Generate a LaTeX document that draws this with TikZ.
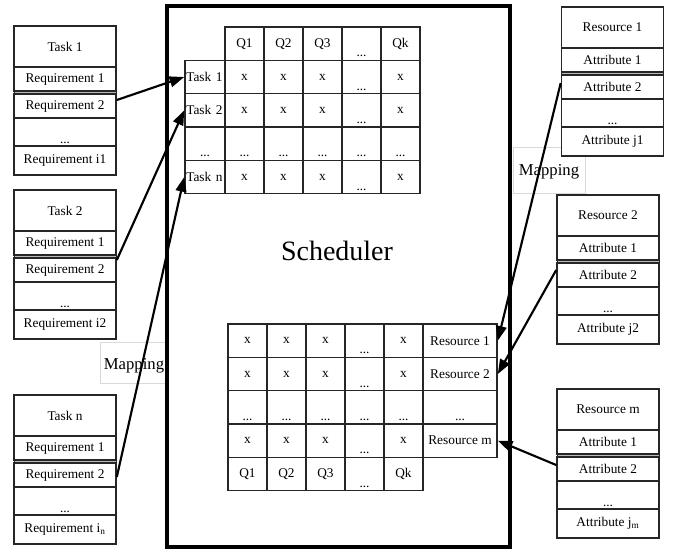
\documentclass[tikz,border=0pt]{standalone}
\usepackage{fontspec}
\setmainfont{Liberation Serif}
\usetikzlibrary{arrows.meta,calc}

% one coordinate unit = one pixel of the drawing (y grows downwards)
\tikzset{
  txt/.style={font=\fontsize{10}{12}\selectfont},
  cell/.style={txt, draw=black!85, line width=1.2pt, fill=white, inner sep=0pt,
               minimum width=29.25pt, minimum height=25pt},
  dotcell/.style={cell, label={[txt, inner sep=3pt, anchor=south]south:...}},
  lblcell/.style={cell, minimum width=30pt, text width=28pt, align=left},
  rescell/.style={cell, minimum width=55.5pt},
  resdots/.style={rescell, label={[txt, inner sep=3pt, anchor=south]south:...}},
  rowbox/.style={txt, draw=black!85, line width=1.2pt, fill=white, inner sep=0pt,
                 minimum width=76.5pt},
  dotrow/.style={rowbox, label={[txt, inner sep=2pt, anchor=south]south:...}},
  mapbox/.style={draw=black!15, line width=0.6pt, fill=white},
  maptxt/.style={font=\fontsize{12.5}{14}\selectfont},
  frame/.style={draw=black, line width=2.6pt, inner sep=0pt,
                minimum width=257.25pt, minimum height=405.75pt},
  link/.style={draw=black, line width=1.6pt, -{Triangle[length=11pt,width=8pt]}},
}

% stacked record: name prefix, centre x, top y, title, first row, second row, last row
\newcommand\stackbox[7]{%
  \node[rowbox, minimum height=30.75pt] (#1-t) at (#2,#3+20.5) {#4};
  \node[rowbox, minimum height=18pt] (#1-1) at (#2,#3+53) {#5};
  \filldraw[draw=black!85, fill=gray!55, line width=0.6pt] (#2-51,#3+65) rectangle (#2+51,#3+68);
  \node[rowbox, minimum height=18pt] (#1-2) at (#2,#3+80) {#6};
  \node[dotrow, minimum height=21pt] (#1-d) at (#2,#3+106) {};
  \node[rowbox, minimum height=21.75pt] (#1-l) at (#2,#3+134.5) {#7};
}

\begin{document}
\begin{tikzpicture}[x=0.75pt,y=-0.75pt]
\useasboundingbox (0,0) rectangle (673,551);
\fill[white] (0,0) rectangle (673,551);

% mapping captions
\draw[mapbox] (100,342) rectangle (167,383);
\node[maptxt] (mapL) at (134,366) {Mapping};
\draw[mapbox] (513,147) rectangle (585,193);
\node[maptxt] (mapR) at (549,172) {Mapping};

% scheduler frame
\node[frame] (sched) at (338.5,276.5) {};
\node[font=\fontsize{21}{24}\selectfont] (schedtxt) at (337,251) {Scheduler};

% task / QoS matrix (top)
\node[cell] (hq1) at (244.5,43.67) {Q1};
\node[cell] (hq2) at (283.5,43.67) {Q2};
\node[cell] (hq3) at (322.5,43.67) {Q3};
\node[dotcell] (hq4) at (361.5,43.67) {};
\node[cell] (hq5) at (400.5,43.67) {Qk};
\node[lblcell] (tl1) at (205,77) {Task 1};
\node[lblcell] (tl2) at (205,110.33) {Task 2};
\node[dotcell, minimum width=30pt] (tldots) at (205,143.67) {};
\node[lblcell] (tln) at (205,177) {Task n};
\foreach \r/\y in {1/77,2/110.33,4/177}{
  \foreach \j/\x in {1/244.5,2/283.5,3/322.5,5/400.5}
    \node[cell] (a-\r-\j) at (\x,\y) {x};
  \node[dotcell] (a-\r-4) at (361.5,\y) {};
}
\foreach \j/\x in {1/244.5,2/283.5,3/322.5,4/361.5,5/400.5}
  \node[dotcell] (a-3-\j) at (\x,143.67) {};

% resource / QoS matrix (bottom)
\foreach \r/\y in {1/340.67,2/374,4/440.67}{
  \foreach \j/\x in {1/247.5,2/286.5,3/325.5,5/403.5}
    \node[cell] (b-\r-\j) at (\x,\y) {x};
  \node[dotcell] (b-\r-4) at (364.5,\y) {};
}
\foreach \j/\x in {1/247.5,2/286.5,3/325.5,4/364.5,5/403.5}
  \node[dotcell] (b-3-\j) at (\x,407.33) {};
\node[cell] (bq1) at (247.5,474) {Q1};
\node[cell] (bq2) at (286.5,474) {Q2};
\node[cell] (bq3) at (325.5,474) {Q3};
\node[dotcell] (bq4) at (364.5,474) {};
\node[cell] (bq5) at (403.5,474) {Qk};
\node[rescell] (rl1) at (460,340.67) {Resource 1};
\node[rescell] (rl2) at (460,374) {Resource 2};
\node[resdots] (rldots) at (460,407.33) {};
\node[rescell] (rlm) at (460,440.67) {Resource m};

% task records
\stackbox{t1}{65}{26}{Task 1}{Requirement 1}{Requirement 2}{Requirement i1}
\stackbox{t2}{65}{190}{Task 2}{Requirement 1}{Requirement 2}{Requirement i2}
\stackbox{tn}{65}{395}{Task n}{Requirement 1}{Requirement 2}{Requirement i\textsubscript{n}}

% resource records
\stackbox{r1}{612.5}{7}{Resource 1}{Attribute 1}{Attribute 2}{Attribute j1}
\stackbox{r2}{608}{195}{Resource 2}{Attribute 1}{Attribute 2}{Attribute j2}
\stackbox{rm}{608}{389}{Resource m}{Attribute 1}{Attribute 2}{Attribute j\textsubscript{m}}

% mappings
\draw[link] ($(t1-2.east)+(0,-6)$) -- (tl1.west);
\draw[link] ($(t2-2.east)+(0,-10)$) -- (tl2.west);
\draw[link] ($(tn-2.east)+(0,2)$) -- (tln.west);
\draw[link] ($(r1-2.west)+(0,-4)$) -- (rl1.east);
\draw[link] ($(r2-2.west)+(0,-5)$) -- (rl2.east);
\draw[link] ($(rm-2.west)+(0,-4)$) -- (rlm.east);
\end{tikzpicture}
\end{document}
